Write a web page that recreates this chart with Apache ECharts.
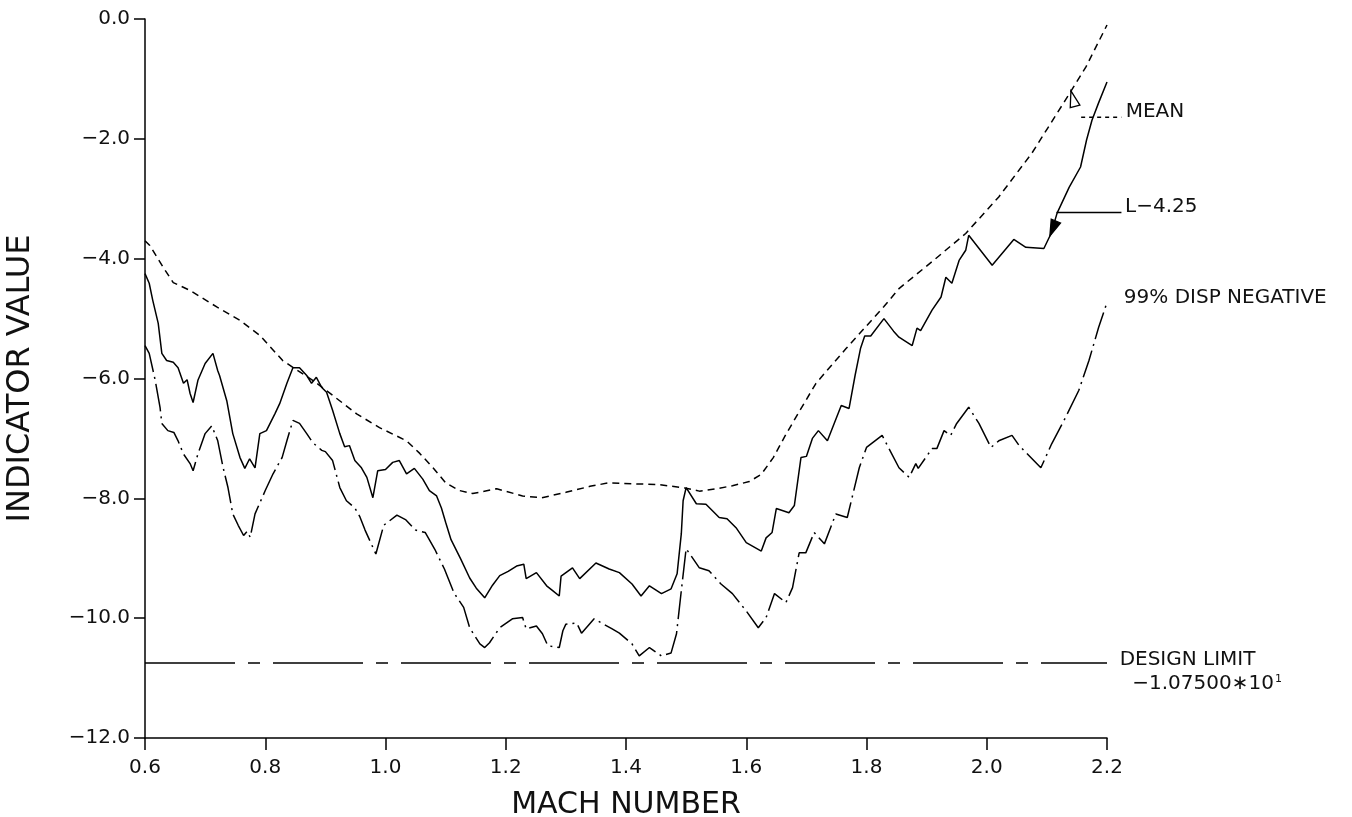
<!DOCTYPE html>
<html>
<head>
<meta charset="utf-8">
<script src="https://cdn.jsdelivr.net/npm/echarts@6/dist/echarts.min.js"></script>
<style>
html,body{margin:0;padding:0;background:#fff;}
#chart{width:1352px;height:817px;}
</style>
</head>
<body>
<div id="chart"></div>
<script>
// ---- data ----
const xAxisTicks = [0.6, 0.8, 1.0, 1.2, 1.4, 1.6, 1.8, 2.0, 2.2];
const yAxisTicks = [0, -2, -4, -6, -8, -10, -12];

const meanX = [0.600,0.608,0.630,0.647,0.675,0.720,0.758,0.791,0.829,0.850,0.879,0.912,0.952,0.990,1.035,1.057,1.079,1.100,1.123,1.145,1.185,1.228,1.260,1.300,1.340,1.372,1.420,1.455,1.500,1.522,1.550,1.577,1.605,1.625,1.645,1.665,1.690,1.716,1.766,1.829,1.854,1.909,1.965,2.020,2.075,2.131,2.165,2.200];
const meanY = [-3.70,-3.78,-4.14,-4.40,-4.53,-4.81,-5.03,-5.28,-5.70,-5.84,-6.03,-6.28,-6.59,-6.82,-7.04,-7.25,-7.49,-7.74,-7.87,-7.92,-7.84,-7.96,-7.99,-7.90,-7.80,-7.74,-7.76,-7.77,-7.83,-7.88,-7.84,-7.79,-7.72,-7.60,-7.32,-6.95,-6.52,-6.08,-5.50,-4.80,-4.50,-4.05,-3.58,-2.97,-2.24,-1.35,-0.80,-0.10];

const l425X = [0.600,0.607,0.613,0.622,0.628,0.636,0.647,0.655,0.664,0.670,0.675,0.680,0.688,0.700,0.713,0.721,0.724,0.736,0.746,0.758,0.766,0.774,0.783,0.791,0.802,0.816,0.824,0.836,0.846,0.857,0.869,0.877,0.885,0.894,0.902,0.912,0.924,0.932,0.940,0.949,0.960,0.969,0.979,0.987,1.000,1.012,1.023,1.035,1.048,1.062,1.073,1.085,1.093,1.100,1.109,1.125,1.140,1.151,1.165,1.178,1.190,1.204,1.218,1.230,1.234,1.251,1.268,1.278,1.289,1.292,1.311,1.323,1.350,1.372,1.389,1.410,1.425,1.439,1.459,1.475,1.485,1.492,1.495,1.500,1.517,1.533,1.555,1.568,1.583,1.600,1.625,1.633,1.643,1.650,1.671,1.680,1.691,1.700,1.710,1.720,1.735,1.758,1.771,1.781,1.790,1.797,1.807,1.829,1.845,1.854,1.876,1.884,1.890,1.909,1.924,1.932,1.942,1.954,1.965,1.970,2.009,2.045,2.065,2.095,2.107,2.117,2.137,2.156,2.166,2.175,2.186,2.200];
const l425Y = [-4.25,-4.41,-4.70,-5.08,-5.58,-5.70,-5.73,-5.82,-6.08,-6.02,-6.25,-6.40,-6.03,-5.75,-5.58,-5.87,-5.95,-6.37,-6.92,-7.32,-7.50,-7.34,-7.49,-6.92,-6.87,-6.59,-6.42,-6.08,-5.82,-5.82,-5.95,-6.08,-5.98,-6.15,-6.23,-6.53,-6.92,-7.14,-7.12,-7.37,-7.49,-7.65,-7.99,-7.54,-7.52,-7.40,-7.37,-7.59,-7.50,-7.68,-7.87,-7.96,-8.16,-8.40,-8.69,-9.01,-9.33,-9.50,-9.66,-9.45,-9.29,-9.22,-9.13,-9.10,-9.34,-9.24,-9.46,-9.54,-9.63,-9.30,-9.16,-9.34,-9.08,-9.18,-9.24,-9.43,-9.63,-9.46,-9.59,-9.51,-9.26,-8.59,-8.04,-7.82,-8.09,-8.10,-8.32,-8.34,-8.49,-8.74,-8.88,-8.66,-8.57,-8.17,-8.24,-8.12,-7.32,-7.30,-7.00,-6.87,-7.04,-6.45,-6.50,-5.95,-5.50,-5.29,-5.29,-5.00,-5.21,-5.31,-5.45,-5.16,-5.20,-4.86,-4.64,-4.31,-4.41,-4.03,-3.86,-3.61,-4.11,-3.68,-3.81,-3.83,-3.58,-3.24,-2.81,-2.47,-2.02,-1.69,-1.40,-1.05];

const dispX = [0.600,0.607,0.617,0.625,0.628,0.638,0.648,0.655,0.664,0.675,0.680,0.688,0.700,0.711,0.721,0.730,0.738,0.746,0.755,0.764,0.770,0.775,0.783,0.800,0.813,0.828,0.836,0.846,0.857,0.869,0.879,0.894,0.900,0.912,0.924,0.935,0.949,0.957,0.966,0.984,0.997,1.019,1.034,1.050,1.066,1.082,1.098,1.114,1.130,1.140,1.157,1.165,1.173,1.190,1.211,1.228,1.234,1.251,1.261,1.270,1.289,1.295,1.300,1.318,1.326,1.347,1.377,1.389,1.410,1.422,1.439,1.459,1.475,1.484,1.492,1.500,1.522,1.538,1.558,1.577,1.600,1.620,1.633,1.647,1.666,1.677,1.688,1.699,1.713,1.730,1.749,1.768,1.788,1.800,1.826,1.854,1.871,1.882,1.886,1.909,1.917,1.929,1.940,1.950,1.970,1.987,2.007,2.020,2.042,2.054,2.090,2.108,2.131,2.153,2.170,2.186,2.200];
const dispY = [-5.45,-5.58,-6.03,-6.48,-6.75,-6.87,-6.90,-7.04,-7.26,-7.42,-7.54,-7.26,-6.92,-6.79,-7.04,-7.49,-7.82,-8.26,-8.45,-8.62,-8.55,-8.65,-8.26,-7.87,-7.59,-7.32,-7.04,-6.70,-6.75,-6.92,-7.07,-7.20,-7.22,-7.37,-7.82,-8.04,-8.16,-8.30,-8.53,-8.93,-8.45,-8.28,-8.36,-8.53,-8.57,-8.85,-9.18,-9.58,-9.82,-10.16,-10.43,-10.49,-10.41,-10.16,-10.01,-9.99,-10.18,-10.13,-10.26,-10.46,-10.49,-10.21,-10.10,-10.08,-10.25,-10.01,-10.18,-10.25,-10.43,-10.63,-10.49,-10.63,-10.58,-10.26,-9.54,-8.84,-9.16,-9.21,-9.43,-9.59,-9.88,-10.16,-9.99,-9.59,-9.74,-9.49,-8.91,-8.91,-8.57,-8.76,-8.26,-8.32,-7.49,-7.15,-6.95,-7.49,-7.65,-7.42,-7.50,-7.17,-7.17,-6.87,-6.95,-6.75,-6.48,-6.75,-7.15,-7.04,-6.95,-7.12,-7.49,-7.09,-6.65,-6.20,-5.70,-5.15,-4.73];

const designLimitX = [0.6, 2.2];
const designLimitValue = -10.75;

// ---- chart ----
const FONT = 'DejaVu Sans';
const minus = v => (v < 0 ? '\u2212' : '') + Math.abs(v).toFixed(1);
const pairs = (xs, ys) => xs.map((x, i) => [x, ys[i]]);

const chart = echarts.init(document.getElementById('chart'));
chart.setOption({
  animation: false,
  backgroundColor: '#fff',
  grid: { left: 145, right: 245, top: 19, bottom: 79, containLabel: false, outerBoundsMode: 'none' },
  xAxis: {
    type: 'value', min: 0.6, max: 2.2, interval: 0.2,
    name: 'MACH NUMBER', nameLocation: 'middle', nameGap: 52,
    nameTextStyle: { fontFamily: FONT, fontSize: 30, color: '#111' },
    axisLine: { onZero: false, lineStyle: { color: '#000', width: 1.5 } },
    axisTick: { inside: false, length: 12, lineStyle: { color: '#000', width: 1.5 } },
    axisLabel: { margin: 20, fontFamily: FONT, fontSize: 20, color: '#111',
      formatter: v => v.toFixed(1) },
    splitLine: { show: false }
  },
  yAxis: {
    type: 'value', min: -12, max: 0, interval: 2,
    name: 'INDICATOR VALUE', nameLocation: 'middle', nameGap: 108,
    nameTextStyle: { fontFamily: FONT, fontSize: 32, color: '#111' },
    axisLine: { show: true, onZero: false, lineStyle: { color: '#000', width: 1.5 } },
    axisTick: { show: true, length: 11, lineStyle: { color: '#000', width: 1.5 } },
    axisLabel: { margin: 15, fontFamily: FONT, fontSize: 20, color: '#111', formatter: minus },
    splitLine: { show: false }
  },
  series: [
    { name: 'MEAN', type: 'line', showSymbol: false, data: pairs(meanX, meanY),
      lineStyle: { color: '#000', width: 1.5, type: [7, 5] } },
    { name: 'L-4.25', type: 'line', showSymbol: false, data: pairs(l425X, l425Y),
      lineStyle: { color: '#000', width: 1.5 } },
    { name: '99% DISP NEGATIVE', type: 'line', showSymbol: false, data: pairs(dispX, dispY),
      lineStyle: { color: '#000', width: 1.5, type: [28, 5, 2, 5] } },
    { name: 'DESIGN LIMIT', type: 'line', showSymbol: false,
      data: designLimitX.map(x => [x, designLimitValue]),
      lineStyle: { color: '#000', width: 1.5, type: [90, 13, 12, 13] } }
  ]
});

// ---- annotations (anchored in data coordinates) ----
const P = d => chart.convertToPixel({ gridIndex: 0 }, d);
const txt = (d, text, extra) => {
  const p = P(d);
  return Object.assign({ type: 'text', x: p[0], y: p[1],
    style: Object.assign({ text: text, fontFamily: FONT, fontSize: 20, fill: '#111',
      textAlign: 'left', textVerticalAlign: 'middle' }, extra || {}) });
};
const seg = (a, b, dash) => {
  const p = P(a), q = P(b);
  return { type: 'line', shape: { x1: p[0], y1: p[1], x2: q[0], y2: q[1] },
    style: { stroke: '#000', lineWidth: 1.5, lineDash: dash || null } };
};
const arrow = (tipD, angleDeg, len, half, filled) => {
  const t = P(tipD);
  const a = angleDeg * Math.PI / 180;
  const dx = Math.cos(a), dy = Math.sin(a);
  const bx = t[0] - dx * len, by = t[1] - dy * len;
  return { type: 'polygon',
    shape: { points: [[t[0], t[1]], [bx - dy * half, by + dx * half], [bx + dy * half, by - dx * half]] },
    style: { fill: filled ? '#000' : '#fff', stroke: '#000', lineWidth: 1.3 } };
};

chart.setOption({
  graphic: [
    seg([2.157, -1.64], [2.224, -1.64], [4, 4]),
    arrow([2.140, -1.20], -105, 16, 5, false),
    txt([2.231, -1.55], 'MEAN'),
    seg([2.116, -3.23], [2.224, -3.23]),
    arrow([2.105, -3.62], 112, 16, 5, true),
    txt([2.230, -3.13], 'L\u22124.25'),
    txt([2.228, -4.65], '99% DISP NEGATIVE'),
    txt([2.221, -10.70], 'DESIGN LIMIT'),
    {
      type: 'text', x: P([2.242, -11.10])[0], y: P([2.242, -11.10])[1],
      style: {
        text: '{a|\u22121.07500\u221710}{s|1}',
        textAlign: 'left', textVerticalAlign: 'middle',
        rich: {
          a: { fontFamily: FONT, fontSize: 20, fill: '#111' },
          s: { fontFamily: FONT, fontSize: 11, fill: '#111', verticalAlign: 'top', padding: [0, 0, 10, 1] }
        }
      }
    }
  ]
});
</script>
</body>
</html>
